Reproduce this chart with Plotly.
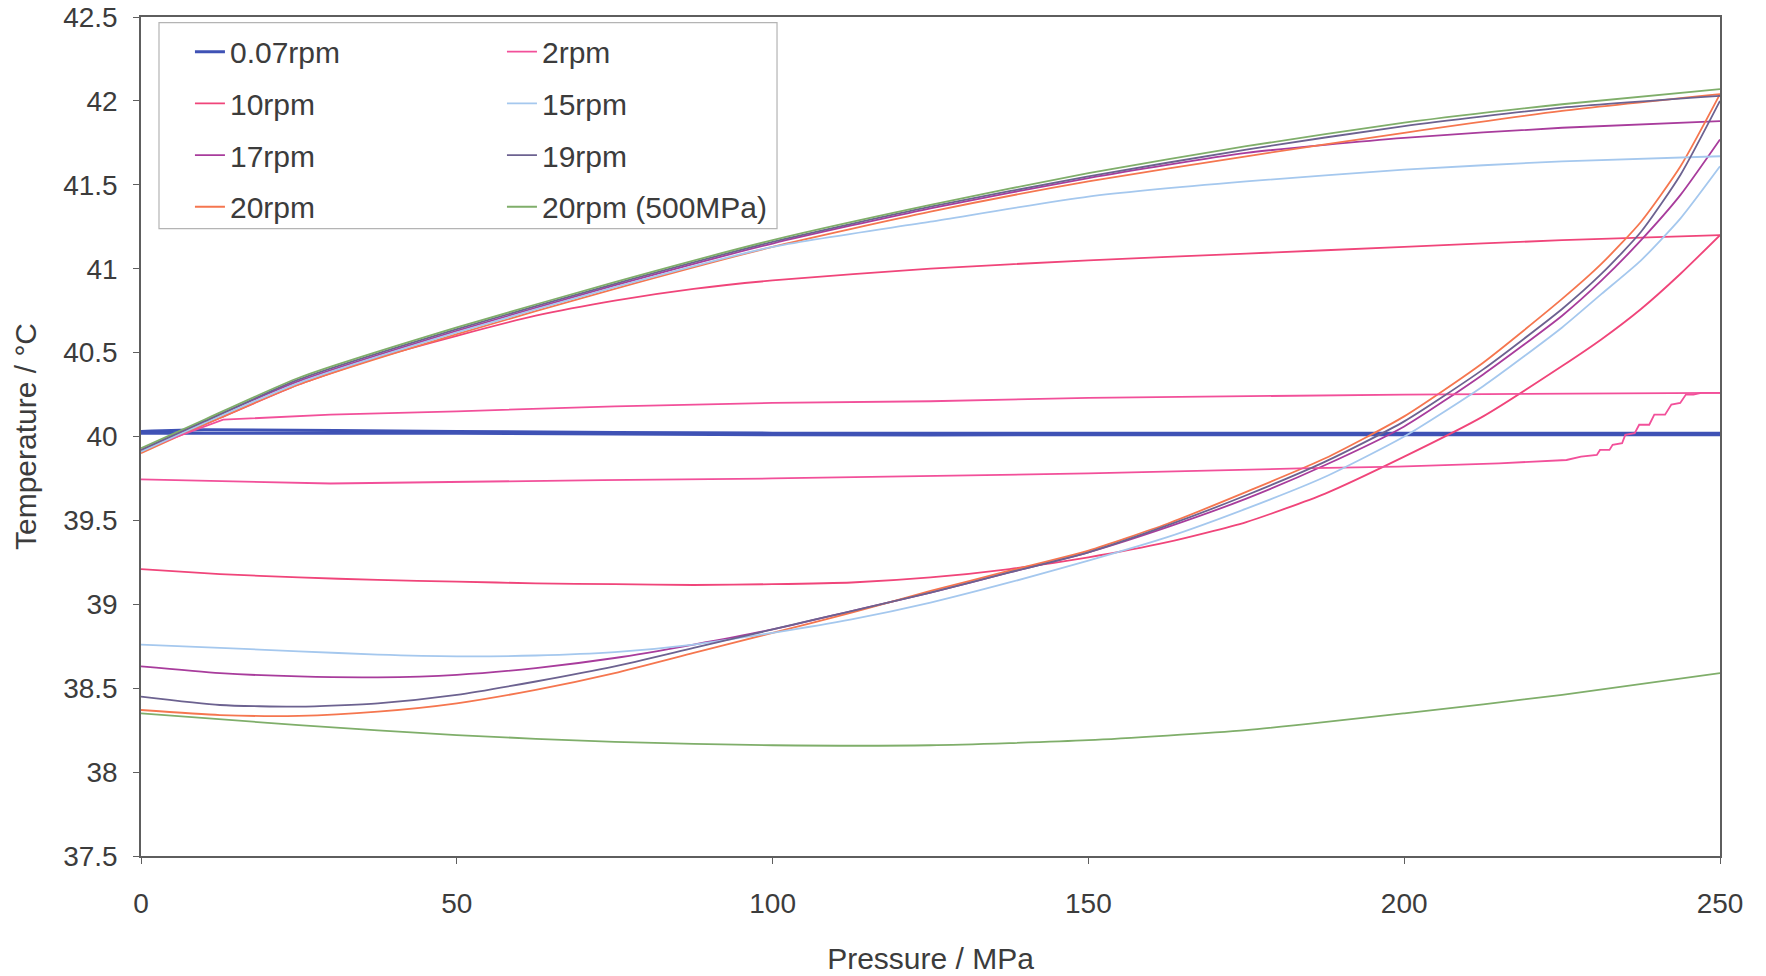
import plotly.graph_objects as go

# ---------------- data ----------------
# 0.07 rpm
p007_up = [0, 10, 50, 100, 150, 200, 250]
t007_up = [40.03, 40.04, 40.03, 40.02, 40.02, 40.02, 40.02]
p007_dn = [250, 200, 150, 100, 50, 0]
t007_dn = [40.01, 40.01, 40.01, 40.01, 40.02, 40.02]

# 2 rpm
p2_up = [0, 5, 10, 13, 30, 50, 75, 100, 125, 150, 200, 250]
t2_up = [39.92, 39.99, 40.06, 40.10, 40.13, 40.15, 40.18, 40.20, 40.21, 40.23, 40.25, 40.26]
p2_dn = [250, 247, 245.8, 244.6, 243.7, 242.3, 241.3, 239.6, 238.8, 237.2, 236.5,
         235, 234.5, 233, 232.5, 231, 230.5, 228, 225.7, 215, 199, 183.5, 150,
         100, 73, 30, 0]
t2_dn = [40.26, 40.26, 40.25, 40.25, 40.20, 40.19, 40.13, 40.13, 40.07, 40.07, 40.02,
         40.01, 39.96, 39.95, 39.92, 39.92, 39.89, 39.88, 39.86, 39.84, 39.82, 39.81, 39.78,
         39.75, 39.74, 39.72, 39.745]

# pressure grids used by the remaining series
P_UP = [0, 10, 25, 50, 75, 100, 125, 150, 175, 200, 225, 250]
P_DN = [250, 243.75, 237.5, 231.25, 225, 212.5, 200, 187.5, 175, 162.5, 150, 137.5,
        125, 112.5, 100, 87.5, 75, 62.5, 50, 37.5, 25, 12.5, 0]

# 10 rpm
p10_up = [0, 12.5, 25, 37.5, 50, 62.5, 75, 87.5, 100, 125, 150, 175, 200, 225, 250]
t10_up = [39.91, 40.11, 40.31, 40.47, 40.60, 40.72, 40.81, 40.88, 40.93, 41.00, 41.05,
          41.09, 41.13, 41.17, 41.20]
t10_dn = [41.20, 40.97, 40.76, 40.58, 40.42, 40.12, 39.88, 39.66, 39.49, 39.37, 39.28, 39.21,
          39.16, 39.13, 39.12, 39.115, 39.12, 39.125, 39.135, 39.145, 39.16, 39.18, 39.21]

# 15 rpm
t15_up = [39.91, 40.08, 40.32, 40.62, 40.89, 41.13, 41.28, 41.43, 41.52, 41.59, 41.64, 41.67]
t15_dn = [41.61, 41.30, 41.05, 40.85, 40.65, 40.30, 40.00, 39.76, 39.57, 39.40, 39.26, 39.13,
          39.01, 38.91, 38.83, 38.76, 38.715, 38.695, 38.69, 38.70, 38.72, 38.74, 38.76]

# 17 rpm
t17_up = [39.92, 40.09, 40.33, 40.63, 40.90, 41.15, 41.36, 41.54, 41.69, 41.78, 41.84, 41.88]
t17_dn = [41.77, 41.44, 41.17, 40.93, 40.72, 40.37, 40.06, 39.83, 39.63, 39.46, 39.31, 39.19,
          39.07, 38.96, 38.85, 38.76, 38.68, 38.62, 38.58, 38.565, 38.57, 38.59, 38.63]

# 19 rpm
t19_up = [39.92, 40.09, 40.34, 40.64, 40.91, 41.16, 41.37, 41.55, 41.71, 41.85, 41.96, 42.03]
t19_dn = [42.00, 41.56, 41.22, 40.97, 40.76, 40.40, 40.09, 39.85, 39.65, 39.47, 39.31, 39.19,
          39.07, 38.96, 38.85, 38.74, 38.63, 38.54, 38.46, 38.41, 38.39, 38.40, 38.45]

# 20 rpm
t20_up = [39.90, 40.07, 40.31, 40.61, 40.88, 41.13, 41.34, 41.52, 41.67, 41.81, 41.94, 42.04]
t20_dn = [42.04, 41.61, 41.28, 41.03, 40.82, 40.44, 40.12, 39.87, 39.67, 39.48, 39.32, 39.20,
          39.08, 38.95, 38.83, 38.71, 38.59, 38.49, 38.41, 38.36, 38.335, 38.34, 38.37]

# 20 rpm (500 MPa)
t20b_up = [39.93, 40.10, 40.35, 40.65, 40.92, 41.17, 41.38, 41.57, 41.73, 41.87, 41.98, 42.07]
p20b_dn = [250, 225, 200, 175, 150, 125, 100, 75, 50, 25, 0]
t20b_dn = [38.59, 38.46, 38.35, 38.25, 38.19, 38.16, 38.16, 38.18, 38.22, 38.28, 38.35]

series = [
    # name, up-x, up-y, down-x, down-y, colour, width, legend, shape
    ("0.07rpm", p007_up, t007_up, p007_dn, t007_dn, "#3f52b5", 3.0, "legend", "spline"),
    ("10rpm", p10_up, t10_up, P_DN, t10_dn, "#f0457a", 1.8, "legend", "spline"),
    ("17rpm", P_UP, t17_up, P_DN, t17_dn, "#a83c9c", 1.8, "legend", "spline"),
    ("20rpm", P_UP, t20_up, P_DN, t20_dn, "#f5764f", 1.8, "legend", "spline"),
    ("2rpm", p2_up, t2_up, p2_dn, t2_dn, "#f2509a", 1.8, "legend2", "linear"),
    ("15rpm", P_UP, t15_up, P_DN, t15_dn, "#a5c8ee", 1.8, "legend2", "spline"),
    ("19rpm", P_UP, t19_up, P_DN, t19_dn, "#6c6290", 1.8, "legend2", "spline"),
    ("20rpm (500MPa)", P_UP, t20b_up, p20b_dn, t20b_dn, "#7fae6a", 1.8, "legend2", "spline"),
]

FONT = "Liberation Sans, Arial, sans-serif"
TXT = "#3c3c3c"

fig = go.Figure()
for name, xu, yu, xd, yd, col, w, leg, shape in series:
    line = dict(color=col, width=w, shape=shape)
    if shape == "spline":
        line["smoothing"] = 0.6
    fig.add_trace(go.Scatter(
        x=list(xu) + [None] + list(xd),
        y=list(yu) + [None] + list(yd),
        mode="lines", name=name, legend=leg, legendgroup=name,
        line=line, connectgaps=False,
    ))

leg_common = dict(
    yanchor="top", xanchor="left", bgcolor="rgba(0,0,0,0)", borderwidth=0,
    font=dict(family=FONT, size=30, color=TXT), tracegroupgap=9.7,
    itemclick=False, itemdoubleclick=False,
)

fig.update_layout(
    width=1766, height=976,
    margin=dict(l=141, r=46, t=17, b=120, autoexpand=False),
    paper_bgcolor="white", plot_bgcolor="white",
    font=dict(family=FONT, size=28, color=TXT),
    legend=dict(x=0.031, y=0.9897, **leg_common),
    legend2=dict(x=0.2286, y=0.9897, **leg_common),
    xaxis=dict(
        range=[0, 250], tickvals=[0, 50, 100, 150, 200, 250],
        showgrid=False, zeroline=False,
        showline=True, linecolor="#5e5e5e", linewidth=1.5, mirror=True,
        ticks="outside", ticklen=6, tickcolor="#5e5e5e", ticklabelstandoff=16,
        tickfont=dict(family=FONT, size=28, color=TXT),
        title=dict(text="Pressure / MPa", standoff=30, font=dict(family=FONT, size=30, color=TXT)),
        automargin=False,
    ),
    yaxis=dict(
        range=[37.5, 42.5], tickvals=[37.5, 38, 38.5, 39, 39.5, 40, 40.5, 41, 41.5, 42, 42.5],
        ticktext=["37.5", "38", "38.5", "39", "39.5", "40", "40.5", "41", "41.5", "42", "42.5"],
        showgrid=False, zeroline=False,
        showline=True, linecolor="#5e5e5e", linewidth=1.5, mirror=True,
        ticks="outside", ticklen=6, tickcolor="#5e5e5e", ticklabelstandoff=10,
        tickfont=dict(family=FONT, size=28, color=TXT),
        title=dict(text="Temperature / °C", standoff=18, font=dict(family=FONT, size=30, color=TXT)),
        automargin=False,
    ),
    shapes=[dict(type="rect", xref="paper", yref="paper",
                 x0=0.0114, x1=0.4028, y0=0.7478, y1=0.9934,
                 line=dict(color="#b4b4b4", width=1.2), fillcolor="rgba(0,0,0,0)", layer="below")],
)

fig.write_html("out.html")
